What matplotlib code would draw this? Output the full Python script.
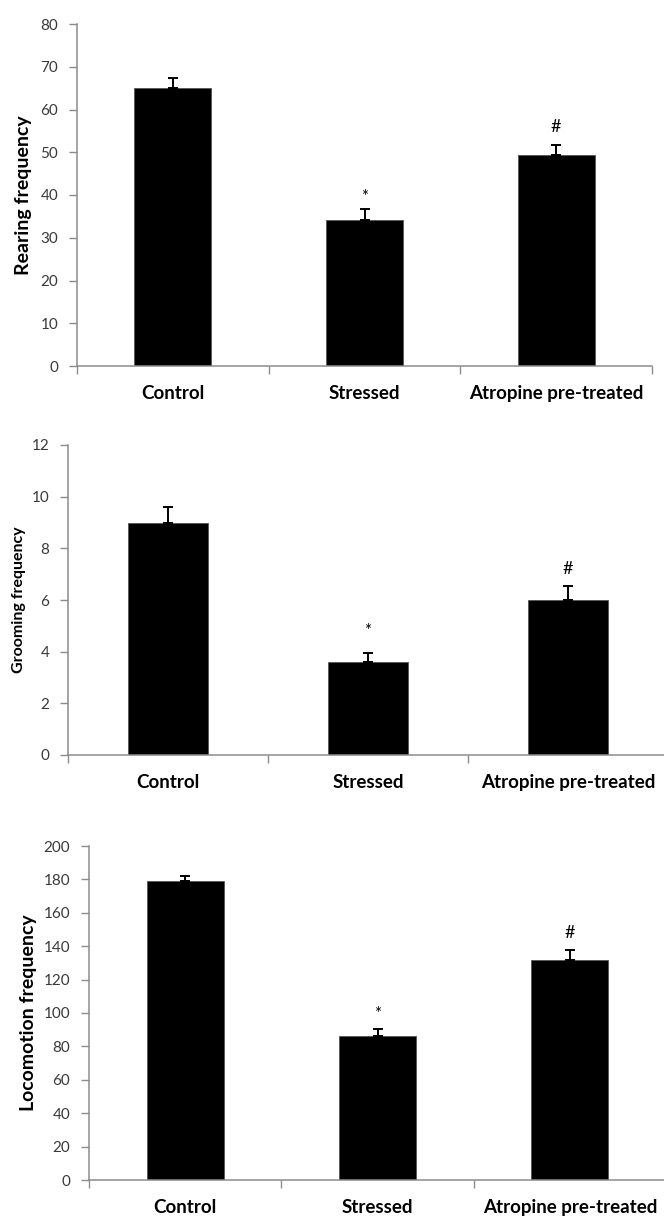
import matplotlib
matplotlib.use("Agg")
import matplotlib.pyplot as plt
import numpy as np

plt.rcParams['font.family'] = ['Lato', 'DejaVu Sans']

categories = ["Control", "Stressed", "Atropine pre-treated"]
markers = ["", "*", "#"]

rearing = [65.0, 34.2, 49.3]
rearing_err = [2.3, 2.6, 2.4]
rearing_ticks = [0, 10, 20, 30, 40, 50, 60, 70, 80]

grooming = [9.0, 3.6, 6.0]
grooming_err = [0.6, 0.33, 0.53]
grooming_ticks = [0, 2, 4, 6, 8, 10, 12]

locomotion = [179.0, 86.5, 131.6]
locomotion_err = [3.0, 4.0, 6.2]
locomotion_ticks = [0, 20, 40, 60, 80, 100, 120, 140, 160, 180, 200]

W, H = 664, 1216
fig = plt.figure(figsize=(W / 100, H / 100), dpi=100)

AXIS_COLOR = "#8c8c8c"
TEXT_COLOR = "#3a3a3a"

panels = [
    # (values, errors, ticks, ylabel, left, right, top, bottom, ylabel_x, ylabel_size, mark offsets px)
    (rearing, rearing_err, rearing_ticks, "Rearing frequency", 77, 652, 24, 366, 23, 14, {"*": 12, "#": 18}),
    (grooming, grooming_err, grooming_ticks, "Grooming frequency", 68, 668, 445, 755, 19, 11.5, {"*": 22, "#": 17}),
    (locomotion, locomotion_err, locomotion_ticks, "Locomotion frequency", 89, 666, 846, 1180, 29, 14, {"*": 15, "#": 17}),
]

x = np.arange(len(categories))
for vals, errs, ticks, ylabel, l, r, t, b, ylx, yls, offs in panels:
    ax = fig.add_axes([l / W, 1 - b / H, (r - l) / W, (b - t) / H])
    ax.bar(x, vals, width=0.4, color="black", edgecolor="#555555", linewidth=0.6, zorder=2)
    ax.errorbar(x, vals, yerr=[np.zeros(len(vals)), errs], fmt="none", ecolor="black",
                elinewidth=1.4, capsize=3.5, capthick=1.4, zorder=3)
    ax.set_xlim(-0.5, 2.5)
    ax.set_ylim(ticks[0], ticks[-1])
    ax.set_yticks(ticks)
    ax.set_yticklabels([str(v) for v in ticks], fontsize=11, color=TEXT_COLOR)
    ax.set_xticks(x)
    ax.set_xticklabels(categories, fontsize=13.5, fontweight="bold", color="black")
    ax.set_xticks([-0.5, 0.5, 1.5, 2.5], minor=True)
    ax.tick_params(axis="x", which="major", length=0, pad=14)
    ax.tick_params(axis="x", which="minor", length=6, color=AXIS_COLOR, width=1)
    ax.tick_params(axis="y", length=6, color=AXIS_COLOR, width=1, pad=7.5)
    for s in ("top", "right"):
        ax.spines[s].set_visible(False)
    for s in ("left", "bottom"):
        ax.spines[s].set_color(AXIS_COLOR)
        ax.spines[s].set_linewidth(1.1)
    ax.set_ylabel(ylabel, fontsize=yls, fontweight="bold", va="center")
    ax.yaxis.set_label_coords((ylx - l) / (r - l), 0.5)
    for xi, v, e, m in zip(x, vals, errs, markers):
        if m:
            ax.annotate(m, (xi, v + e), xytext=(0, offs[m] * 0.72), textcoords="offset points",
                        ha="center", va="center", fontsize=13 if m == "#" else 12, color="black")

fig.savefig("out.png", dpi=100)
